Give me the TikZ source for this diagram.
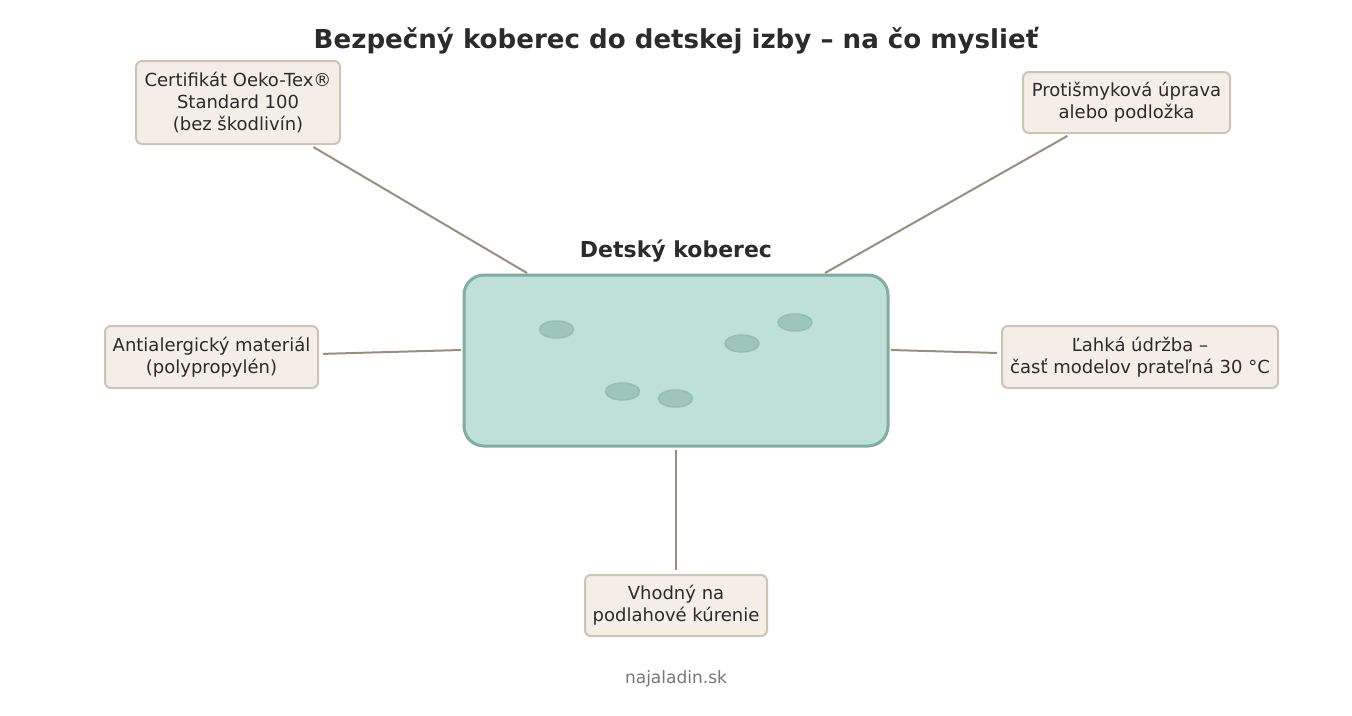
\documentclass[tikz,border=0pt]{standalone}
\usepackage{fontspec}
\setmainfont{DejaVu Sans}
\definecolor{boxfill}{HTML}{F3EFE7}
\definecolor{boxline}{HTML}{CFC4B1}
\definecolor{conn}{HTML}{9B8F7B}
\definecolor{txt}{HTML}{2B2B2B}
\definecolor{rugfill}{HTML}{BFE0D9}
\definecolor{rugline}{HTML}{7FAE9F}
\definecolor{spotfill}{HTML}{9DC5BA}
\definecolor{spotline}{HTML}{93BFB2}
\definecolor{foot}{HTML}{777777}
\tikzset{
  infobox/.style={draw=boxline, line width=2pt, fill=boxfill, rounded corners=6pt,
    align=center, text=txt, inner sep=0pt, font=\fontsize{18}{22}\selectfont},
  link/.style={draw=conn, line width=2pt, shorten <=4pt},
  spot/.style={draw=spotline, fill=spotfill, line width=1.5pt, ellipse}
}
\usetikzlibrary{shapes.geometric}
\begin{document}
\begin{tikzpicture}[x=1pt,y=-1pt]
\useasboundingbox (0,0) rectangle (1352,715);
\node[text=txt, font=\fontsize{26.1}{30}\selectfont\bfseries] (title) at (676,40.5) {Bezpečný koberec do detskej izby – na čo myslieť};
\node[text=txt, font=\fontsize{22}{26}\selectfont\bfseries] (ruglabel) at (676,251.5) {Detský koberec};
\node[draw=rugline, fill=rugfill, line width=3pt, rounded corners=20pt, minimum width=424pt, minimum height=171pt, inner sep=0pt] (rug) at (676,360.5) {};
\node[spot, minimum width=34pt, minimum height=17pt, inner sep=0pt] (s1) at (556.5,329.5) {};
\node[spot, minimum width=34pt, minimum height=17pt, inner sep=0pt] (s2) at (622.5,391.5) {};
\node[spot, minimum width=34pt, minimum height=17pt, inner sep=0pt] (s3) at (675.5,398.5) {};
\node[spot, minimum width=34pt, minimum height=17pt, inner sep=0pt] (s4) at (742,343.5) {};
\node[spot, minimum width=34pt, minimum height=17pt, inner sep=0pt] (s5) at (795,322.5) {};
\node[infobox, minimum width=204pt, minimum height=83pt] (cert) at (238,102.5) {Certifikát Oeko-Tex®\\Standard 100\\(bez škodlivín)};
\node[infobox, minimum width=207pt, minimum height=61pt] (slip) at (1126.5,102.5) {Protišmyková úprava\\alebo podložka};
\node[infobox, minimum width=213pt, minimum height=62pt] (anti) at (211.5,357) {Antialergický materiál\\(polypropylén)};
\node[infobox, minimum width=276pt, minimum height=62pt] (care) at (1140,357) {Ľahká údržba –\\časť modelov prateľná 30 °C};
\node[infobox, minimum width=182pt, minimum height=61pt] (heat) at (676,605.5) {Vhodný na\\podlahové kúrenie};
\coordinate (cTL) at (527,273);
\coordinate (cTR) at (825,273);
\coordinate (cL) at (461,350);
\coordinate (cR) at (891,350);
\coordinate (cB) at (676,450);
\draw[link] (cert) -- (cTL);
\draw[link] (slip) -- (cTR);
\draw[link] (anti) -- (cL);
\draw[link] (care) -- (cR);
\draw[link] (heat) -- (cB);
\node[text=foot, font=\fontsize{17}{20}\selectfont] (site) at (676,678.5) {najaladin.sk};
\end{tikzpicture}
\end{document}
